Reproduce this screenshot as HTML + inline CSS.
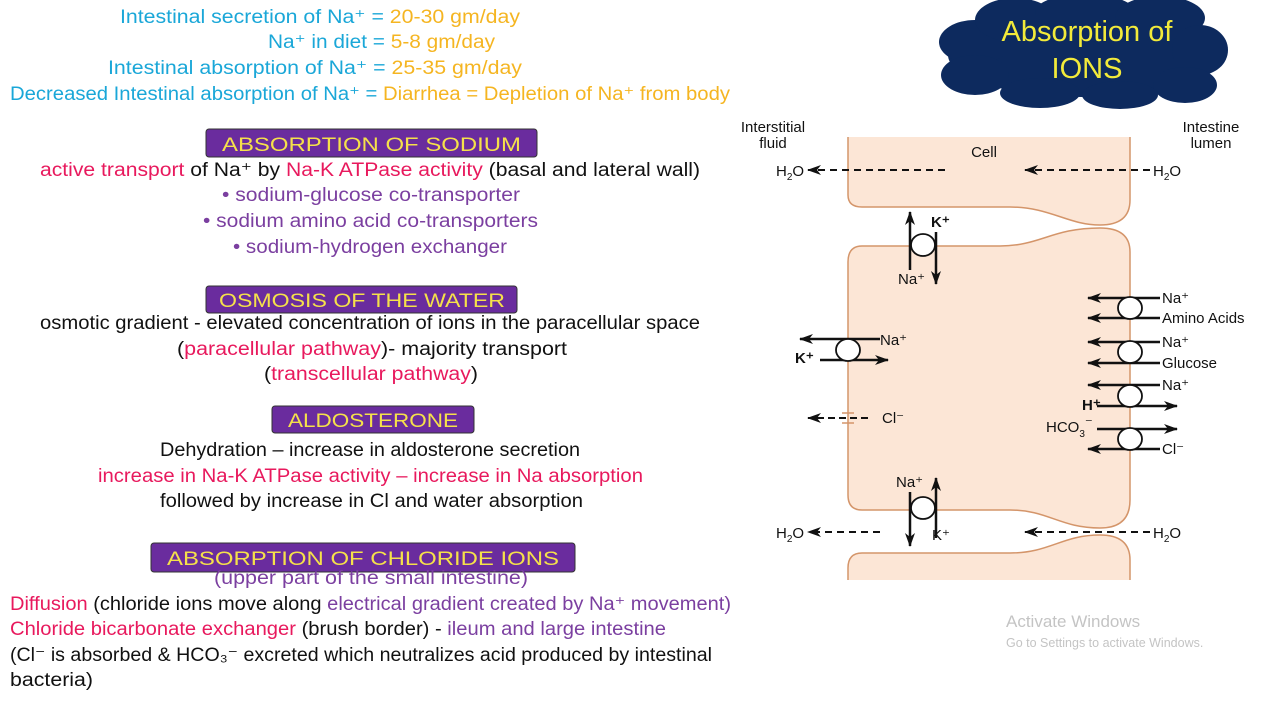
<!DOCTYPE html>
<html><head><meta charset="utf-8"><style>
html,body{margin:0;padding:0;background:#fff;width:1280px;height:720px;overflow:hidden}
svg{display:block}
.h{font-family:"Liberation Sans",sans-serif;font-size:19px}
.d{font-family:"Liberation Sans",sans-serif;font-size:15px;fill:#111}
.b{font-weight:bold}
</style></head><body>
<svg width="1280" height="720" viewBox="0 0 1280 720" xmlns="http://www.w3.org/2000/svg">
<defs>
<marker id="ah" markerWidth="14" markerHeight="10" refX="13" refY="5" orient="auto" markerUnits="userSpaceOnUse">
<path d="M0,0 L14,5 L0,10 L4,5 Z" fill="#111"/></marker>
</defs>
<g class="h">
<text x="120" y="23" textLength="400" lengthAdjust="spacingAndGlyphs"><tspan fill="#1aa7d8">Intestinal secretion of Na⁺ = </tspan><tspan fill="#f5b521">20-30 gm/day</tspan></text>
<text x="268" y="48" textLength="227" lengthAdjust="spacingAndGlyphs"><tspan fill="#1aa7d8">Na⁺ in diet = </tspan><tspan fill="#f5b521">5-8 gm/day</tspan></text>
<text x="108" y="74" textLength="414" lengthAdjust="spacingAndGlyphs"><tspan fill="#1aa7d8">Intestinal absorption of Na⁺ = </tspan><tspan fill="#f5b521">25-35 gm/day</tspan></text>
<text x="10" y="100" textLength="720" lengthAdjust="spacingAndGlyphs"><tspan fill="#1aa7d8">Decreased Intestinal absorption of Na⁺ = </tspan><tspan fill="#f5b521">Diarrhea = Depletion of Na⁺ from body</tspan></text>

<rect x="206" y="129" width="331" height="28" rx="3" fill="#6a2c9e" stroke="#333"/>
<text x="222" y="151" textLength="299" lengthAdjust="spacingAndGlyphs" fill="#f5e14a">ABSORPTION OF SODIUM</text>
<text x="40" y="176" textLength="660" lengthAdjust="spacingAndGlyphs"><tspan fill="#e8195d">active transport</tspan><tspan fill="#111"> of Na⁺ by </tspan><tspan fill="#e8195d">Na-K ATPase activity</tspan><tspan fill="#111"> (basal and lateral wall)</tspan></text>
<text x="222" y="201" textLength="298" lengthAdjust="spacingAndGlyphs" fill="#7b3fa0">•   sodium-glucose co-transporter</text>
<text x="203" y="227" textLength="335" lengthAdjust="spacingAndGlyphs" fill="#7b3fa0">•   sodium amino acid co-transporters</text>
<text x="233" y="253" textLength="274" lengthAdjust="spacingAndGlyphs" fill="#7b3fa0">•   sodium-hydrogen exchanger</text>

<rect x="206" y="286" width="311" height="27" rx="3" fill="#6a2c9e" stroke="#333"/>
<text x="219" y="307" textLength="286" lengthAdjust="spacingAndGlyphs" fill="#f5e14a">OSMOSIS OF THE WATER</text>
<text x="40" y="329" textLength="660" lengthAdjust="spacingAndGlyphs" fill="#111">osmotic gradient - elevated concentration of ions in the paracellular space</text>
<text x="177" y="355" textLength="390" lengthAdjust="spacingAndGlyphs"><tspan fill="#111">(</tspan><tspan fill="#e8195d">paracellular pathway</tspan><tspan fill="#111">)- majority transport</tspan></text>
<text x="264" y="380" textLength="214" lengthAdjust="spacingAndGlyphs"><tspan fill="#111">(</tspan><tspan fill="#e8195d">transcellular pathway</tspan><tspan fill="#111">)</tspan></text>

<rect x="272" y="406" width="202" height="27" rx="3" fill="#6a2c9e" stroke="#333"/>
<text x="288" y="427" textLength="170" lengthAdjust="spacingAndGlyphs" fill="#f5e14a">ALDOSTERONE</text>
<text x="160" y="456" textLength="420" lengthAdjust="spacingAndGlyphs" fill="#111">Dehydration – increase in aldosterone secretion</text>
<text x="98" y="482" textLength="545" lengthAdjust="spacingAndGlyphs" fill="#e8195d">increase in Na-K ATPase activity – increase in Na absorption</text>
<text x="160" y="507" textLength="423" lengthAdjust="spacingAndGlyphs" fill="#111">followed by  increase in Cl and water absorption</text>

<rect x="151" y="543" width="424" height="29" rx="3" fill="#6a2c9e" stroke="#333"/>
<text x="167" y="565" textLength="392" lengthAdjust="spacingAndGlyphs" fill="#f5e14a">ABSORPTION OF CHLORIDE IONS</text>
<text x="214" y="584" textLength="314" lengthAdjust="spacingAndGlyphs" fill="#7b3fa0">(upper part of the small intestine)</text>
<text x="10" y="610" textLength="721" lengthAdjust="spacingAndGlyphs"><tspan fill="#e8195d">Diffusion</tspan><tspan fill="#111"> (chloride ions move along </tspan><tspan fill="#7b3fa0">electrical gradient created by Na⁺ movement)</tspan></text>
<text x="10" y="635" textLength="656" lengthAdjust="spacingAndGlyphs"><tspan fill="#e8195d">Chloride bicarbonate exchanger</tspan><tspan fill="#111"> (brush border) - </tspan><tspan fill="#7b3fa0">ileum and large intestine</tspan></text>
<text x="10" y="661" textLength="702" lengthAdjust="spacingAndGlyphs" fill="#111">(Cl⁻ is absorbed &amp; HCO₃⁻ excreted which neutralizes acid produced by intestinal</text>
<text x="10" y="686" textLength="83" lengthAdjust="spacingAndGlyphs" fill="#111">bacteria)</text>
</g>

<!-- cloud -->
<g fill="#0d2a5e">
<ellipse cx="1083" cy="55" rx="135" ry="42"/>
<ellipse cx="975" cy="42" rx="36" ry="22"/>
<ellipse cx="975" cy="75" rx="34" ry="20"/>
<ellipse cx="1015" cy="20" rx="40" ry="22"/>
<ellipse cx="1085" cy="12" rx="50" ry="18"/>
<ellipse cx="1160" cy="18" rx="45" ry="22"/>
<ellipse cx="1200" cy="50" rx="28" ry="25"/>
<ellipse cx="1185" cy="85" rx="32" ry="18"/>
<ellipse cx="1120" cy="95" rx="38" ry="14"/>
<ellipse cx="1040" cy="93" rx="40" ry="15"/>
</g>
<text x="1087" y="41" text-anchor="middle" font-family="Liberation Sans,sans-serif" font-size="29" fill="#f2ea3a">Absorption of</text>
<text x="1087" y="78" text-anchor="middle" font-family="Liberation Sans,sans-serif" font-size="29" fill="#f2ea3a">IONS</text>

<!-- cells -->
<g fill="#fce6d6" stroke="#d4956a" stroke-width="1.5">
<path d="M848,137 V195 Q848,207 862,207 H1010 C1050,207 1068,225 1100,225 Q1130,225 1130,200 V137" />
<path d="M848,262 Q848,246 862,246 H1000 C1040,246 1052,228 1100,228 Q1130,228 1130,252 V500 Q1130,528 1100,528 C1060,528 1048,510 1010,510 H862 Q848,510 848,495 Z"/>
<path d="M848,580 V568 Q848,553 862,553 H1010 C1050,553 1062,535 1100,535 Q1130,535 1130,560 V580"/>
</g>
<g class="d">
<text x="773" y="132" text-anchor="middle">Interstitial</text>
<text x="773" y="148" text-anchor="middle">fluid</text>
<text x="1211" y="132" text-anchor="middle">Intestine</text>
<text x="1211" y="148" text-anchor="middle">lumen</text>
<text x="984" y="157" text-anchor="middle">Cell</text>
<text x="776" y="176">H<tspan font-size="10" dy="4">2</tspan><tspan dy="-4">O</tspan></text>
<text x="1153" y="176">H<tspan font-size="10" dy="4">2</tspan><tspan dy="-4">O</tspan></text>
<text x="776" y="538">H<tspan font-size="10" dy="4">2</tspan><tspan dy="-4">O</tspan></text>
<text x="1153" y="538">H<tspan font-size="10" dy="4">2</tspan><tspan dy="-4">O</tspan></text>
<text x="931" y="227" class="b">K⁺</text>
<text x="898" y="284">Na⁺</text>
<text x="880" y="345">Na⁺</text>
<text x="795" y="363" class="b">K⁺</text>
<text x="882" y="423">Cl⁻</text>
<text x="1162" y="303">Na⁺</text>
<text x="1162" y="323">Amino Acids</text>
<text x="1162" y="347">Na⁺</text>
<text x="1162" y="368">Glucose</text>
<text x="1162" y="390">Na⁺</text>
<text x="1082" y="410" class="b">H⁺</text>
<text x="1046" y="432">HCO<tspan font-size="10" dy="5">3</tspan><tspan dy="-9">⁻</tspan></text>
<text x="1162" y="454">Cl⁻</text>
<text x="896" y="487">Na⁺</text>
<text x="932" y="540">K⁺</text>
</g>
<g stroke="#111" stroke-width="2.5" fill="none">
<line x1="945" y1="170" x2="808" y2="170" stroke-dasharray="7,5" stroke-width="2" marker-end="url(#ah)"/>
<line x1="1150" y1="170" x2="1025" y2="170" stroke-dasharray="7,5" stroke-width="2" marker-end="url(#ah)"/>
<line x1="880" y1="532" x2="808" y2="532" stroke-dasharray="7,5" stroke-width="2" marker-end="url(#ah)"/>
<line x1="1150" y1="532" x2="1025" y2="532" stroke-dasharray="7,5" stroke-width="2" marker-end="url(#ah)"/>
<line x1="868" y1="418" x2="808" y2="418" stroke-dasharray="7,4" stroke-width="2" marker-end="url(#ah)"/>
<line x1="910" y1="270" x2="910" y2="212" marker-end="url(#ah)"/>
<line x1="936" y1="232" x2="936" y2="284" marker-end="url(#ah)"/>
<line x1="880" y1="339" x2="800" y2="339" marker-end="url(#ah)"/>
<line x1="820" y1="360" x2="888" y2="360" marker-end="url(#ah)"/>
<line x1="1160" y1="298" x2="1088" y2="298" marker-end="url(#ah)"/>
<line x1="1160" y1="318" x2="1088" y2="318" marker-end="url(#ah)"/>
<line x1="1160" y1="342" x2="1088" y2="342" marker-end="url(#ah)"/>
<line x1="1160" y1="363" x2="1088" y2="363" marker-end="url(#ah)"/>
<line x1="1160" y1="385" x2="1088" y2="385" marker-end="url(#ah)"/>
<line x1="1097" y1="406" x2="1177" y2="406" marker-end="url(#ah)"/>
<line x1="1097" y1="429" x2="1177" y2="429" marker-end="url(#ah)"/>
<line x1="1160" y1="449" x2="1088" y2="449" marker-end="url(#ah)"/>
<line x1="910" y1="492" x2="910" y2="546" marker-end="url(#ah)"/>
<line x1="936" y1="538" x2="936" y2="478" marker-end="url(#ah)"/>
</g>
<g fill="#fff" stroke="#111" stroke-width="1.8">
<ellipse cx="923" cy="245" rx="12" ry="11"/>
<ellipse cx="848" cy="350" rx="12" ry="11"/>
<ellipse cx="1130" cy="308" rx="12" ry="11"/>
<ellipse cx="1130" cy="352" rx="12" ry="11"/>
<ellipse cx="1130" cy="396" rx="12" ry="11"/>
<ellipse cx="1130" cy="439" rx="12" ry="11"/>
<ellipse cx="923" cy="508" rx="12" ry="11"/>
</g>
<g stroke="#d4956a" stroke-width="1.5"><line x1="842" y1="413" x2="854" y2="413"/><line x1="842" y1="423" x2="854" y2="423"/></g>

<text x="1006" y="627" font-family="Liberation Sans,sans-serif" font-size="17" fill="#c4c4c4">Activate Windows</text>
<text x="1006" y="647" font-family="Liberation Sans,sans-serif" font-size="12.5" fill="#c4c4c4">Go to Settings to activate Windows.</text>
</svg>
</body></html>
